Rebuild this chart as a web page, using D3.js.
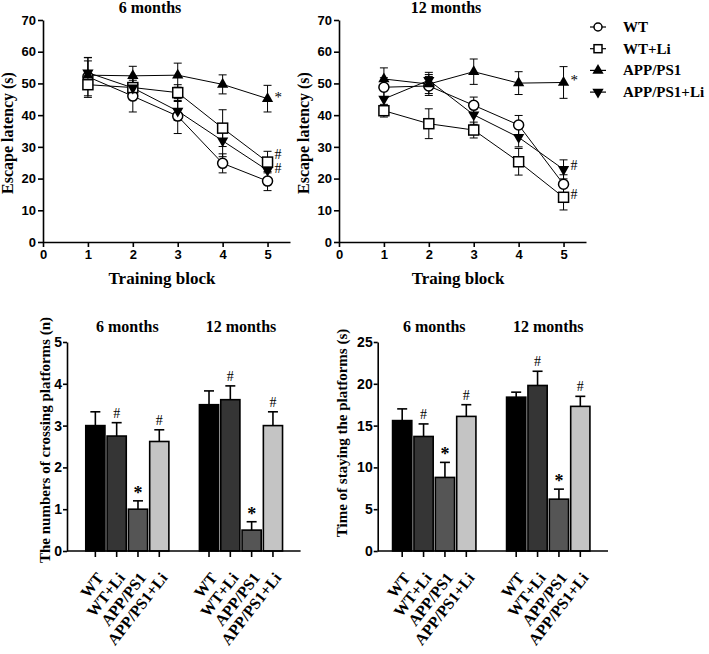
<!DOCTYPE html>
<html>
<head>
<meta charset="utf-8">
<script src="https://cdn.jsdelivr.net/npm/d3@7"></script>
<style>
  body { margin: 0; background: #fff; }
  .tick text { font-family: "Liberation Sans Narrow", "Liberation Sans", Arial, sans-serif; font-weight: bold; font-size: 13px; }
  .serif { font-family: "Liberation Serif", "Times New Roman", serif; font-weight: bold; }
</style>
</head>
<body>
<div id="target"></div>
<script>
const width = 709;
const height = 654;

// training blocks
const blocks = [1, 2, 3, 4, 5];
const groups = ['WT', 'WT+Li', 'APP/PS1', 'APP/PS1+Li'];

// escape latency, 6 months
const wt6 = [52.1, 46.0, 39.7, 24.8, 19.2];
const wt6Err = [6.0, 5.0, 5.5, 3.0, 3.0];
const wtLi6 = [49.6, 48.7, 47.1, 35.9, 25.2];
const wtLi6Err = [4.0, 3.0, 2.5, 5.8, 3.4];
const app6 = [52.6, 52.4, 52.6, 49.7, 45.2];
const app6Err = [4.5, 3.0, 3.8, 3.0, 4.2];
const appLi6 = [53.4, 48.6, 41.3, 31.9, 22.6];
const appLi6Err = [4.8, 3.5, 3.0, 5.0, 3.0];

// escape latency, 12 months
const wt12 = [48.8, 49.2, 43.1, 36.9, 18.2];
const wt12Err = [3.0, 3.0, 2.6, 3.0, 3.0];
const wtLi12 = [41.4, 37.3, 35.3, 25.3, 14.1];
const wtLi12Err = [2.0, 4.7, 2.5, 4.2, 4.0];
const app12 = [51.4, 49.8, 53.7, 50.1, 50.3];
const app12Err = [3.5, 3.0, 4.0, 3.6, 5.0];
const appLi12 = [45.1, 51.0, 40.1, 33.0, 22.9];
const appLi12Err = [3.0, 2.5, 3.0, 3.0, 3.0];

// probe trial
const cross6 = [3.0, 2.75, 1.0, 2.62];
const cross6Err = [0.33, 0.32, 0.2, 0.28];
const cross12 = [3.5, 3.62, 0.5, 3.0];
const cross12Err = [0.33, 0.33, 0.2, 0.33];
const stay6 = [15.6, 13.7, 8.8, 16.1];
const stay6Err = [1.4, 1.5, 1.8, 1.4];
const stay12 = [18.4, 19.8, 6.2, 17.3];
const stay12Err = [0.6, 1.7, 1.2, 1.2];
const marks = ['', '#', '*', '#'];

const barColor = d3.scaleOrdinal().domain(groups).range(['#000', '#353535', '#555', '#c4c4c4']);

const svg = d3.select('#target').append('svg').attr('width', width).attr('height', height);

function marker(sel, kind) {
  if (kind === 'circle') {
    sel.append('circle').attr('r', 5).attr('fill', '#fff').attr('stroke', '#000').attr('stroke-width', 1.5);
  } else if (kind === 'square') {
    sel.append('rect').attr('x', -5).attr('y', -5).attr('width', 10).attr('height', 10)
      .attr('fill', '#fff').attr('stroke', '#000').attr('stroke-width', 1.5);
  } else if (kind === 'up') {
    sel.append('path').attr('d', d3.symbol(d3.symbolTriangle, 55)()).attr('fill', '#000');
  } else {
    sel.append('path').attr('d', d3.symbol(d3.symbolTriangle, 55)()).attr('transform', 'rotate(180)').attr('fill', '#000');
  }
}

function lineChart(x0, title, xTitle, series, notes) {
  const x = d3.scaleLinear().domain([0, 5.5]).range([x0, x0 + 247]);
  const y = d3.scaleLinear().domain([0, 70]).range([242, 20]);
  const g = svg.append('g');

  g.append('g').attr('transform', 'translate(0,242)')
    .call(d3.axisBottom(x).tickValues([0, 1, 2, 3, 4, 5]).tickFormat(d3.format('d')).tickSize(5).tickSizeOuter(0).tickPadding(3));
  g.append('g').attr('transform', `translate(${x0},0)`)
    .call(d3.axisLeft(y).tickValues(d3.range(0, 71, 10)).tickSize(5).tickSizeOuter(0).tickPadding(2));
  g.selectAll('.domain, .tick line').attr('stroke-width', 1.6);

  const line = d3.line().x((d, i) => x(blocks[i])).y((d) => y(d));

  series.forEach((s) => {
    g.append('path').datum(s.values).attr('d', line).attr('fill', 'none').attr('stroke', '#000').attr('stroke-width', 1);
  });

  series.forEach((s) => {
    s.values.forEach((v, i) => {
      const cx = x(blocks[i]);
      const e = s.err[i];
      g.append('line').attr('x1', cx).attr('x2', cx).attr('y1', y(v - e)).attr('y2', y(v + e)).attr('stroke', '#000');
      [v - e, v + e].forEach((t) => {
        g.append('line').attr('x1', cx - 4).attr('x2', cx + 4).attr('y1', y(t)).attr('y2', y(t)).attr('stroke', '#000');
      });
    });
  });

  series.forEach((s) => {
    s.values.forEach((v, i) => {
      g.append('g').attr('transform', `translate(${x(blocks[i])},${y(v)})`).call(marker, s.kind);
    });
  });

  notes.forEach((n) => {
    g.append('text').attr('class', 'serif').attr('x', x(5) + 7).attr('y', y(n.v) + n.dy)
      .style('font-weight', 'normal').style('font-size', n.t === '*' ? '15px' : '14px').text(n.t);
  });

  g.append('text').attr('class', 'serif').attr('x', x0 + 107).attr('y', 13).attr('text-anchor', 'middle')
    .style('font-size', '16px').text(title);
  g.append('text').attr('class', 'serif').attr('x', x0 + 119).attr('y', 284).attr('text-anchor', 'middle')
    .style('font-size', '17px').text(xTitle);
  g.append('text').attr('class', 'serif').attr('transform', `translate(${x0 - 30},133) rotate(-90)`)
    .attr('text-anchor', 'middle').style('font-size', '16px').text('Escape latency (s)');
}

lineChart(43, '6 months', 'Training block', [
  { kind: 'circle', values: wt6, err: wt6Err },
  { kind: 'square', values: wtLi6, err: wtLi6Err },
  { kind: 'up', values: app6, err: app6Err },
  { kind: 'down', values: appLi6, err: appLi6Err },
], [
  { t: '*', v: app6[4], dy: 3 },
  { t: '#', v: wtLi6[4], dy: -3 },
  { t: '#', v: appLi6[4], dy: 3 },
]);

lineChart(339, '12 months', 'Traing block', [
  { kind: 'circle', values: wt12, err: wt12Err },
  { kind: 'square', values: wtLi12, err: wtLi12Err },
  { kind: 'up', values: app12, err: app12Err },
  { kind: 'down', values: appLi12, err: appLi12Err },
], [
  { t: '*', v: app12[4], dy: 3 },
  { t: '#', v: appLi12[4], dy: 1 },
  { t: '#', v: wtLi12[4], dy: 2 },
]);

// legend
const kinds = ['circle', 'square', 'up', 'down'];
const legend = svg.append('g').attr('transform', 'translate(598,27)');
groups.forEach((name, i) => {
  const row = legend.append('g').attr('transform', `translate(0,${i * 21.7})`);
  row.append('line').attr('x1', -8).attr('x2', 8).attr('stroke', '#000').attr('stroke-width', 1.2);
  row.call(marker, kinds[i]);
  row.selectAll('circle').attr('r', 4);
  row.selectAll('rect').attr('x', -4).attr('y', -4).attr('width', 8).attr('height', 8);
  row.append('text').attr('class', 'serif').attr('x', 25).attr('y', 5).style('font-size', '15px').text(name);
});

function barChart(x0, bandStart, bandEnd, yMax, yStep, yTitle, v6, e6, v12, e12) {
  const y = d3.scaleLinear().domain([0, yMax]).range([551, 342]);
  const outer = d3.scaleBand().domain(['6 months', '12 months']).range([bandStart, bandEnd]).paddingInner(0.25);
  const inner = d3.scaleBand().domain(groups).range([0, outer.bandwidth()]).paddingInner(0.1).paddingOuter(0.05);
  const g = svg.append('g');

  const sets = [
    { month: '6 months', values: v6, err: e6 },
    { month: '12 months', values: v12, err: e12 },
  ];

  sets.forEach((s) => {
    const gx = outer(s.month);
    groups.forEach((name, i) => {
      const bx = gx + inner(name);
      const bw = inner.bandwidth();
      const cx = bx + bw / 2;
      const top = s.values[i] + s.err[i];
      g.append('line').attr('x1', cx).attr('x2', cx).attr('y1', y(s.values[i])).attr('y2', y(top))
        .attr('stroke', '#000').attr('stroke-width', 1.6);
      g.append('line').attr('x1', cx - 5).attr('x2', cx + 5).attr('y1', y(top)).attr('y2', y(top))
        .attr('stroke', '#000').attr('stroke-width', 1.6);
      g.append('rect').attr('x', bx).attr('y', y(s.values[i])).attr('width', bw).attr('height', y(0) - y(s.values[i]))
        .attr('fill', barColor(name)).attr('stroke', '#000').attr('stroke-width', 1.6);
      if (marks[i]) {
        g.append('text').attr('class', 'serif').attr('x', cx).attr('y', y(top) - (marks[i] === '*' ? 2 : 5))
          .attr('text-anchor', 'middle').style('font-weight', marks[i] === '*' ? 'bold' : 'normal')
          .style('font-size', marks[i] === '*' ? '18px' : '14px').text(marks[i]);
      }
      g.append('line').attr('x1', cx).attr('x2', cx).attr('y1', y(0)).attr('y2', y(0) + 6)
        .attr('stroke', '#000').attr('stroke-width', 1.6);
      g.append('text').attr('class', 'serif').attr('text-anchor', 'end')
        .attr('transform', `translate(${cx + 9},${y(0) + 27}) rotate(-52)`)
        .style('font-size', '16px').text(name);
    });
    g.append('text').attr('class', 'serif').attr('x', gx + outer.bandwidth() / 2).attr('y', 332)
      .attr('text-anchor', 'middle').style('font-size', '16px').text(s.month);
  });

  g.append('g').attr('transform', `translate(${x0},0)`)
    .call(d3.axisLeft(y).tickValues(d3.range(0, yMax + 0.001, yStep)).tickFormat(d3.format('d'))
      .tickSize(4).tickSizeOuter(0).tickPadding(1));
  g.append('line').attr('x1', x0).attr('x2', bandEnd + 17).attr('y1', y(0)).attr('y2', y(0))
    .attr('stroke', '#000').attr('stroke-width', 1.6);
  g.selectAll('.domain, .tick line').attr('stroke-width', 1.6);
  g.selectAll('.tick text').style('font-size', '14px');

  g.append('text').attr('class', 'serif').attr('transform', `translate(${yTitle.x},${yTitle.cy}) rotate(-90)`)
    .attr('text-anchor', 'middle').style('font-size', '15px').text(yTitle.text);
}

barChart(67, 84.7, 283.6, 5, 1, { text: 'The numbers of crossing platforms (n)', x: 50, cy: 440 },
  cross6, cross6Err, cross12, cross12Err);
barChart(377.7, 391.5, 591, 25, 5, { text: 'Time of staying the platforms (s)', x: 347, cy: 433 },
  stay6, stay6Err, stay12, stay12Err);
</script>
</body>
</html>
